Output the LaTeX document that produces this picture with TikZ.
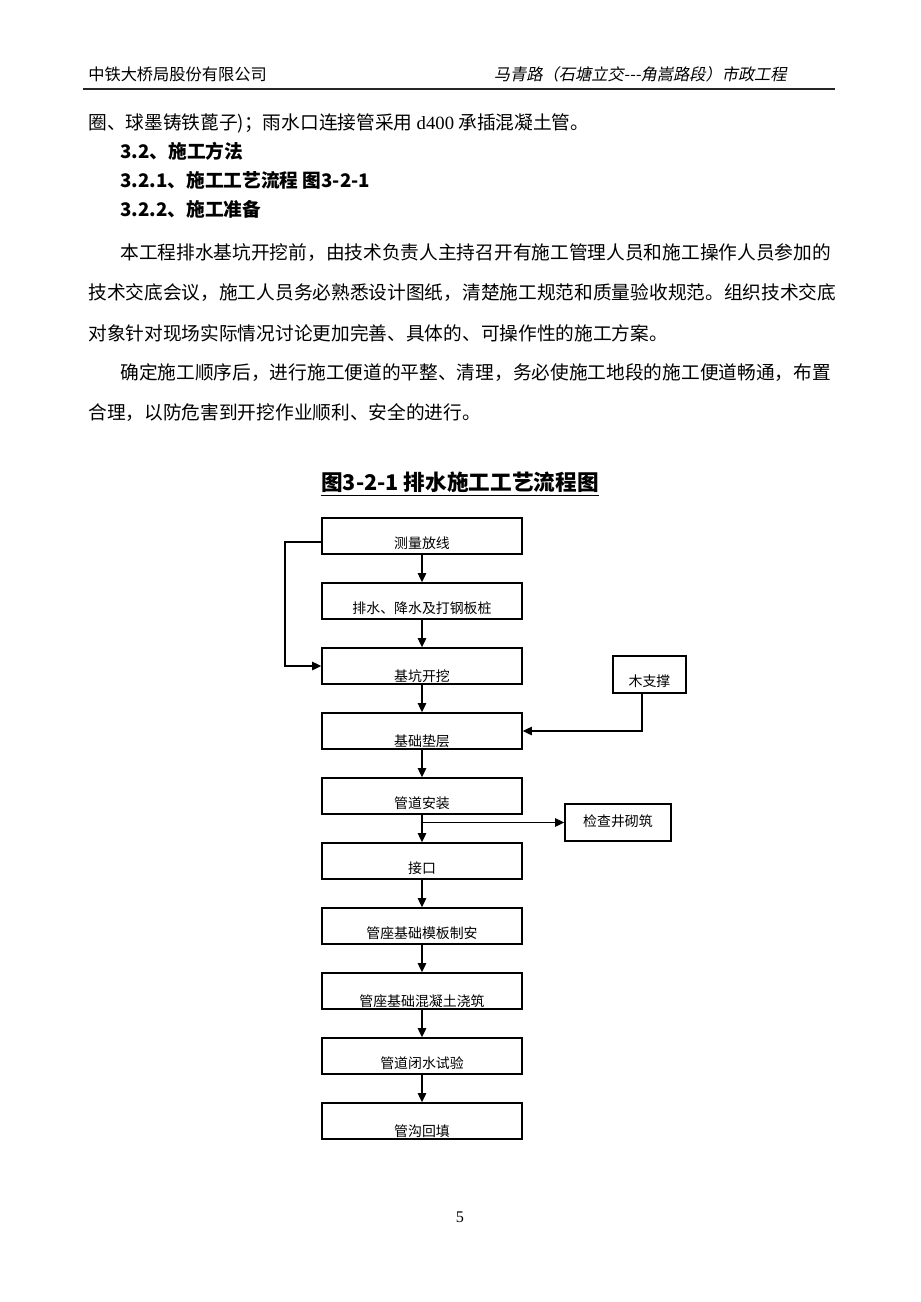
\documentclass[tikz,border=0pt]{standalone}
\usepackage{fontspec}
\setmainfont{Noto Sans CJK SC}
\newfontfamily\cjkit[FakeSlant=0.2]{Noto Sans CJK SC}
\newfontfamily\serif{Liberation Serif}
\usetikzlibrary{calc,arrows.meta}
\tikzset{
  txt/.style={inner sep=0pt, anchor=west},
  body/.style={txt, font=\fontsize{12.1pt}{14pt}\selectfont},
  head/.style={txt, font=\fontsize{12.1pt}{14pt}\selectfont\bfseries},
  box/.style={draw, line width=0.9pt, minimum width=129.4pt, minimum height=23.3pt, inner sep=0pt},
  sbox/.style={draw, line width=0.9pt, minimum height=23.9pt, inner sep=0pt},
  lbl/.style={inner sep=0pt, font=\fontsize{9pt}{10pt}\selectfont},
  arr/.style={line width=0.9pt, -{Triangle[length=6pt,width=5.5pt]}}
}
\begin{document}
\begin{tikzpicture}[x=0.647pt,y=-0.647pt]
\fill[white] (0,0) rectangle (920,1302);
\useasboundingbox (0,0) rectangle (920,1302);

% header
\node[txt, font=\fontsize{10.5pt}{12pt}\selectfont] (hl) at (88,74) {中铁大桥局股份有限公司};
\node[inner sep=0pt, anchor=east, font=\fontsize{10.5pt}{12pt}\cjkit] (hr) at (787,74) {马青路（石塘立交---角嵩路段）市政工程};
\draw[line width=1.3pt, black!85] (83,89) -- (835,89);

% body text
\node[body] (l1) at (88,123) {圈、球墨铸铁蓖子)；雨水口连接管采用 {\serif d400} 承插混凝土管。};
\node[head] (h1) at (120,151) {3.2、施工方法};
\node[head] (h2) at (120,180) {3.2.1、施工工艺流程 图3-2-1};
\node[head] (h3) at (120,209) {3.2.2、施工准备};
\node[body] (p1) at (120,253) {本工程排水基坑开挖前，由技术负责人主持召开有施工管理人员和施工操作人员参加的};
\node[body] (p2) at (88,293) {技术交底会议，施工人员务必熟悉设计图纸，清楚施工规范和质量验收规范。组织技术交底};
\node[body] (p3) at (88,333) {对象针对现场实际情况讨论更加完善、具体的、可操作性的施工方案。};
\node[body] (p4) at (120,373) {确定施工顺序后，进行施工便道的平整、清理，务必使施工地段的施工便道畅通，布置};
\node[body] (p5) at (88,413) {合理，以防危害到开挖作业顺利、安全的进行。};

% title
\node[inner sep=0pt, font=\fontsize{14pt}{16pt}\selectfont\bfseries] (title) at (460,482) {图3-2-1 排水施工工艺流程图};
\draw[line width=1pt] (title.south west) ++(0,3) coordinate (ul1) -- (ul1 -| title.south east);

% main boxes
\node[box] (b1) at (422,536) {};
\node[box] (b2) at (422,601) {};
\node[box] (b3) at (422,666) {};
\node[box] (b4) at (422,731) {};
\node[box] (b5) at (422,796) {};
\node[box] (b6) at (422,861) {};
\node[box] (b7) at (422,926) {};
\node[box] (b8) at (422,991) {};
\node[box] (b9) at (422,1056) {};
\node[box] (b10) at (422,1121) {};

\node[lbl] (t1) at ($(b1.center)+(0,7)$) {测量放线};
\node[lbl] (t2) at ($(b2.center)+(0,7)$) {排水、降水及打钢板桩};
\node[lbl] (t3) at ($(b3.center)+(0,10)$) {基坑开挖};
\node[lbl] (t4) at ($(b4.center)+(0,10)$) {基础垫层};
\node[lbl] (t5) at ($(b5.center)+(0,7)$) {管道安装};
\node[lbl] (t6) at ($(b6.center)+(0,7)$) {接口};
\node[lbl] (t7) at ($(b7.center)+(0,7)$) {管座基础模板制安};
\node[lbl] (t8) at ($(b8.center)+(0,10)$) {管座基础混凝土浇筑};
\node[lbl] (t9) at ($(b9.center)+(0,7)$) {管道闭水试验};
\node[lbl] (t10) at ($(b10.center)+(0,10)$) {管沟回填};

% side boxes
\node[sbox, minimum width=47.2pt] (m) at (649.5,674.5) {};
\node[lbl] (tm) at ($(m.center)+(0,7)$) {木支撑};
\node[sbox, minimum width=68.6pt] (j) at (618,822.5) {};
\node[lbl] (tj) at ($(j.center)+(0,-1)$) {检查井砌筑};

% vertical arrows
\foreach \a/\b in {b1/b2,b2/b3,b3/b4,b4/b5,b5/b6,b6/b7,b7/b8,b8/b9,b9/b10}
  \draw[arr] (\a.south) -- (\b.north);

% loop from b1 to b3
\coordinate (lx) at (285,600);
\draw[arr] ($(b1.west)+(0,6)$) -| (lx) |- (b3.west);

% 木支撑 to b4
\coordinate (mx) at (642,700);
\draw[arr] (mx |- m.south) |- (b4.east);

% branch to 检查井砌筑
\draw[arr] (b5.south |- j.west) -- (j.west);

% page number
\node[inner sep=0pt, font=\fontsize{10.5pt}{12pt}\serif] (pg) at (460,1217) {5};
\end{tikzpicture}
\end{document}
